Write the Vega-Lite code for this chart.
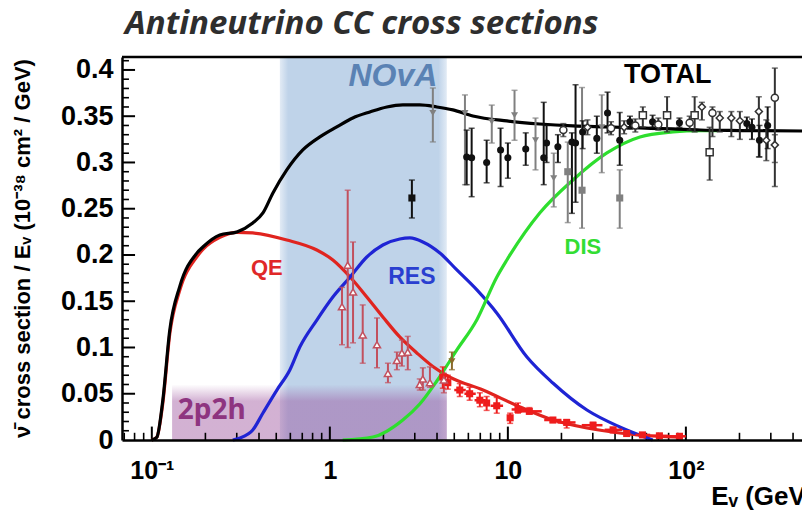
{
  "$schema": "https://vega.github.io/schema/vega-lite/v6.json",
  "width": 680,
  "height": 383,
  "autosize": {"type": "none"},
  "padding": {"left": 122, "top": 57, "right": 0, "bottom": 72},
  "background": "white",
  "title": {"text": "Antineutrino CC cross sections", "anchor": "start", "frame": "group", "font": "Open Sans", "fontSize": 33, "fontStyle": "italic", "fontWeight": "bold", "color": "#2e2e2e", "offset": 15, "dx": 3},
  "config": {"view": {"stroke": null}, "font": "Liberation Sans"},
  "datasets": {
    "bands": [
      {"band": "NOvA", "lo": 0.524, "hi": 4.54, "bottom": 0, "top": 0.414},
      {"band": "2p2h", "lo": 0.13, "hi": 4.54, "bottom": 0, "top": 0.06}
    ],
    "xt": [
      {"t": 0.1, "k": "major"}, {"t": 1, "k": "major"}, {"t": 10, "k": "major"}, {"t": 100, "k": "major"},
      {"t": 0.07, "k": "minor"}, {"t": 0.08, "k": "minor"}, {"t": 0.09, "k": "minor"},
      {"t": 0.2, "k": "minor"}, {"t": 0.3, "k": "minor"}, {"t": 0.4, "k": "minor"}, {"t": 0.5, "k": "minor"}, {"t": 0.6, "k": "minor"}, {"t": 0.7, "k": "minor"}, {"t": 0.8, "k": "minor"}, {"t": 0.9, "k": "minor"},
      {"t": 2, "k": "minor"}, {"t": 3, "k": "minor"}, {"t": 4, "k": "minor"}, {"t": 5, "k": "minor"}, {"t": 6, "k": "minor"}, {"t": 7, "k": "minor"}, {"t": 8, "k": "minor"}, {"t": 9, "k": "minor"},
      {"t": 20, "k": "minor"}, {"t": 30, "k": "minor"}, {"t": 40, "k": "minor"}, {"t": 50, "k": "minor"}, {"t": 60, "k": "minor"}, {"t": 70, "k": "minor"}, {"t": 80, "k": "minor"}, {"t": 90, "k": "minor"},
      {"t": 200, "k": "minor"}, {"t": 300, "k": "minor"}, {"t": 400, "k": "minor"}
    ],
    "yt": [
      {"t": 0.05, "k": "major"}, {"t": 0.1, "k": "major"}, {"t": 0.15, "k": "major"}, {"t": 0.2, "k": "major"}, {"t": 0.25, "k": "major"}, {"t": 0.3, "k": "major"}, {"t": 0.35, "k": "major"}, {"t": 0.4, "k": "major"},
      {"t": 0.01, "k": "minor"}, {"t": 0.02, "k": "minor"}, {"t": 0.03, "k": "minor"}, {"t": 0.04, "k": "minor"},
      {"t": 0.06, "k": "minor"}, {"t": 0.07, "k": "minor"}, {"t": 0.08, "k": "minor"}, {"t": 0.09, "k": "minor"},
      {"t": 0.11, "k": "minor"}, {"t": 0.12, "k": "minor"}, {"t": 0.13, "k": "minor"}, {"t": 0.14, "k": "minor"},
      {"t": 0.16, "k": "minor"}, {"t": 0.17, "k": "minor"}, {"t": 0.18, "k": "minor"}, {"t": 0.19, "k": "minor"},
      {"t": 0.21, "k": "minor"}, {"t": 0.22, "k": "minor"}, {"t": 0.23, "k": "minor"}, {"t": 0.24, "k": "minor"},
      {"t": 0.26, "k": "minor"}, {"t": 0.27, "k": "minor"}, {"t": 0.28, "k": "minor"}, {"t": 0.29, "k": "minor"},
      {"t": 0.31, "k": "minor"}, {"t": 0.32, "k": "minor"}, {"t": 0.33, "k": "minor"}, {"t": 0.34, "k": "minor"},
      {"t": 0.36, "k": "minor"}, {"t": 0.37, "k": "minor"}, {"t": 0.38, "k": "minor"}, {"t": 0.39, "k": "minor"},
      {"t": 0.41, "k": "minor"}
    ],
    "total": [
      {"E": 0.1, "v": 0}, {"E": 0.1067, "v": 0.003}, {"E": 0.1153, "v": 0.043}, {"E": 0.1262, "v": 0.119},
      {"E": 0.1436, "v": 0.166}, {"E": 0.179, "v": 0.202}, {"E": 0.1935, "v": 0.2086}, {"E": 0.241, "v": 0.2216},
      {"E": 0.3005, "v": 0.2249}, {"E": 0.369, "v": 0.2346}, {"E": 0.421, "v": 0.2454}, {"E": 0.479, "v": 0.267},
      {"E": 0.573, "v": 0.2919}, {"E": 0.705, "v": 0.3135}, {"E": 0.879, "v": 0.3276}, {"E": 1.094, "v": 0.3384},
      {"E": 1.346, "v": 0.3481}, {"E": 1.678, "v": 0.3546}, {"E": 2.09, "v": 0.36}, {"E": 2.57, "v": 0.3622},
      {"E": 3.2, "v": 0.3622}, {"E": 3.99, "v": 0.36}, {"E": 4.91, "v": 0.3568}, {"E": 6.36, "v": 0.3503},
      {"E": 9.87, "v": 0.3449}, {"E": 15.1, "v": 0.3416}, {"E": 23.2, "v": 0.3395}, {"E": 36, "v": 0.3384},
      {"E": 55.2, "v": 0.3373}, {"E": 84.5, "v": 0.3362}, {"E": 120, "v": 0.3351}, {"E": 200, "v": 0.3345},
      {"E": 449, "v": 0.334}
    ],
    "qe": [
      {"E": 0.1, "v": 0}, {"E": 0.1067, "v": 0.003}, {"E": 0.1153, "v": 0.04}, {"E": 0.1262, "v": 0.115},
      {"E": 0.1436, "v": 0.162}, {"E": 0.179, "v": 0.198}, {"E": 0.1935, "v": 0.206}, {"E": 0.241, "v": 0.219},
      {"E": 0.3005, "v": 0.2245}, {"E": 0.369, "v": 0.2238}, {"E": 0.573, "v": 0.2162}, {"E": 0.845, "v": 0.2054},
      {"E": 1.04, "v": 0.1946}, {"E": 1.3, "v": 0.1762}, {"E": 1.613, "v": 0.1546}, {"E": 1.985, "v": 0.133},
      {"E": 2.47, "v": 0.1114}, {"E": 3.08, "v": 0.0941}, {"E": 3.79, "v": 0.0795}, {"E": 4.72, "v": 0.068},
      {"E": 7.25, "v": 0.054}, {"E": 11.7, "v": 0.0357}, {"E": 17.9, "v": 0.0216}, {"E": 27.8, "v": 0.013},
      {"E": 42.5, "v": 0.0076}, {"E": 65.1, "v": 0.0043}, {"E": 96, "v": 0.003}
    ],
    "res": [
      {"E": 0.285, "v": 0}, {"E": 0.31, "v": 0.002}, {"E": 0.369, "v": 0.0108}, {"E": 0.421, "v": 0.0292},
      {"E": 0.504, "v": 0.054}, {"E": 0.596, "v": 0.0757}, {"E": 0.678, "v": 0.1005}, {"E": 0.845, "v": 0.1297},
      {"E": 1.04, "v": 0.1546}, {"E": 1.3, "v": 0.1762}, {"E": 1.613, "v": 0.1978}, {"E": 1.985, "v": 0.2108},
      {"E": 2.47, "v": 0.2173}, {"E": 2.82, "v": 0.2184}, {"E": 3.33, "v": 0.2141}, {"E": 4.15, "v": 0.2022},
      {"E": 5.17, "v": 0.1838}, {"E": 6.7, "v": 0.1622}, {"E": 8.66, "v": 0.1373}, {"E": 12.8, "v": 0.0897},
      {"E": 17.9, "v": 0.0616}, {"E": 27.8, "v": 0.0324}, {"E": 42.5, "v": 0.0141}, {"E": 65.1, "v": 0}
    ],
    "dis": [
      {"E": 1.18, "v": 0}, {"E": 1.745, "v": 0.0032}, {"E": 2.57, "v": 0.0216}, {"E": 3.2, "v": 0.0389},
      {"E": 3.99, "v": 0.0638}, {"E": 5.17, "v": 0.0973}, {"E": 6.7, "v": 0.13}, {"E": 8.66, "v": 0.176},
      {"E": 9.87, "v": 0.1946}, {"E": 15.1, "v": 0.2454}, {"E": 23.2, "v": 0.2811}, {"E": 36, "v": 0.3103},
      {"E": 55.2, "v": 0.3276}, {"E": 84.5, "v": 0.333}, {"E": 120, "v": 0.3345}, {"E": 150, "v": 0.3345}
    ],
    "pts": [
      {"E": 1.17, "v": 0.144, "lo": 0.103, "hi": 0.165, "g": "pk", "m": "tu", "f": 0},
      {"E": 1.26, "v": 0.189, "lo": 0.1, "hi": 0.27, "g": "pk", "m": "tu", "f": 0},
      {"E": 1.35, "v": 0.16, "lo": 0.105, "hi": 0.214, "g": "pk", "m": "tu", "f": 0},
      {"E": 1.53, "v": 0.1135, "lo": 0.083, "hi": 0.146, "g": "pk", "m": "tu", "f": 0},
      {"E": 1.84, "v": 0.103, "lo": 0.078, "hi": 0.132, "g": "pk", "m": "tu", "f": 0},
      {"E": 2.12, "v": 0.072, "lo": 0.062, "hi": 0.083, "g": "pk", "m": "tu", "f": 0},
      {"E": 2.38, "v": 0.086, "lo": 0.076, "hi": 0.095, "g": "pk", "m": "tu", "f": 0},
      {"E": 2.54, "v": 0.094, "lo": 0.08, "hi": 0.108, "g": "pk", "m": "tu", "f": 0},
      {"E": 2.74, "v": 0.095, "lo": 0.076, "hi": 0.112, "g": "pk", "m": "tu", "f": 0},
      {"E": 3.2, "v": 0.06, "lo": 0.054, "hi": 0.066, "g": "pk", "m": "tu", "f": 0},
      {"E": 3.33, "v": 0.066, "lo": 0.054, "hi": 0.078, "g": "pk", "m": "tu", "f": 0},
      {"E": 3.65, "v": 0.062, "lo": 0.057, "hi": 0.079, "g": "pk", "m": "tu", "f": 0},
      {"E": 4.37, "v": 0.065, "lo": 0.051, "hi": 0.072, "g": "pk", "m": "tu", "f": 0},
      {"E": 4.85, "v": 0.085, "lo": 0.076, "hi": 0.095, "g": "br", "m": "td", "f": 1},
      {"E": 4.31, "v": 0.068, "lo": 0.056, "hi": 0.079, "g": "rd", "m": "sq", "f": 1},
      {"E": 4.6, "v": 0.062, "lo": 0.055, "hi": 0.07, "g": "rd", "m": "sq", "f": 1},
      {"E": 5.37, "v": 0.054, "lo": 0.047, "hi": 0.061, "xlo": 5.0, "xhi": 5.8, "g": "rd", "m": "sq", "f": 1},
      {"E": 6.1, "v": 0.05, "lo": 0.043, "hi": 0.057, "xlo": 5.7, "xhi": 6.6, "g": "rd", "m": "sq", "f": 1},
      {"E": 6.96, "v": 0.043, "lo": 0.036, "hi": 0.051, "xlo": 6.5, "xhi": 7.5, "g": "rd", "m": "sq", "f": 1},
      {"E": 7.6, "v": 0.04, "lo": 0.032, "hi": 0.047, "g": "rd", "m": "sq", "f": 1},
      {"E": 8.66, "v": 0.037, "lo": 0.029, "hi": 0.046, "xlo": 8.0, "xhi": 9.4, "g": "rd", "m": "sq", "f": 1},
      {"E": 10.3, "v": 0.024, "lo": 0.018, "hi": 0.029, "g": "rd", "m": "sq", "f": 1},
      {"E": 11.4, "v": 0.033, "lo": 0.029, "hi": 0.04, "xlo": 10.5, "xhi": 12.5, "g": "rd", "m": "sq", "f": 1},
      {"E": 13.2, "v": 0.031, "lo": 0.028, "hi": 0.035, "xlo": 11.5, "xhi": 15.5, "g": "rd", "m": "sq", "f": 1},
      {"E": 17.9, "v": 0.0216, "lo": 0.019, "hi": 0.024, "xlo": 16, "xhi": 20, "g": "rd", "m": "sq", "f": 1},
      {"E": 21.4, "v": 0.019, "lo": 0.013, "hi": 0.022, "xlo": 19, "xhi": 24, "g": "rd", "m": "sq", "f": 1},
      {"E": 30.1, "v": 0.016, "lo": 0.013, "hi": 0.019, "xlo": 26, "xhi": 34, "g": "rd", "m": "sq", "f": 1},
      {"E": 39, "v": 0.011, "lo": 0.008, "hi": 0.013, "xlo": 35, "xhi": 44, "g": "rd", "m": "sq", "f": 1},
      {"E": 46.5, "v": 0.007, "lo": 0.005, "hi": 0.009, "g": "rd", "m": "sq", "f": 1},
      {"E": 57, "v": 0.0055, "lo": 0.003, "hi": 0.007, "xlo": 52, "xhi": 63, "g": "rd", "m": "sq", "f": 1},
      {"E": 71, "v": 0.0045, "lo": 0.0025, "hi": 0.006, "xlo": 63, "xhi": 80, "g": "rd", "m": "sq", "f": 1},
      {"E": 92, "v": 0.004, "lo": 0.002, "hi": 0.006, "xlo": 80, "xhi": 100, "g": "rd", "m": "sq", "f": 1},
      {"E": 3.79, "v": 0.3535, "lo": 0.3222, "hi": 0.3805, "g": "gy", "m": "td", "f": 1},
      {"E": 2.89, "v": 0.2616, "lo": 0.24, "hi": 0.281, "g": "bk", "m": "sq", "f": 1},
      {"E": 5.74, "v": 0.3535, "lo": 0.276, "hi": 0.373, "g": "gy", "m": "td", "f": 1},
      {"E": 5.87, "v": 0.306, "lo": 0.276, "hi": 0.335, "g": "bk", "m": "ci", "f": 1},
      {"E": 6.26, "v": 0.305, "lo": 0.263, "hi": 0.337, "g": "bk", "m": "ci", "f": 1},
      {"E": 7.6, "v": 0.3, "lo": 0.278, "hi": 0.324, "g": "bk", "m": "ci", "f": 1},
      {"E": 8.12, "v": 0.344, "lo": 0.321, "hi": 0.362, "g": "gy", "m": "td", "f": 1},
      {"E": 9.1, "v": 0.3135, "lo": 0.274, "hi": 0.337, "g": "bk", "m": "ci", "f": 1},
      {"E": 10.0, "v": 0.305, "lo": 0.283, "hi": 0.321, "g": "bk", "m": "ci", "f": 1},
      {"E": 10.9, "v": 0.351, "lo": 0.324, "hi": 0.378, "g": "gy", "m": "td", "f": 1},
      {"E": 12.6, "v": 0.3146, "lo": 0.297, "hi": 0.332, "g": "bk", "m": "ci", "f": 1},
      {"E": 14.3, "v": 0.324, "lo": 0.292, "hi": 0.348, "g": "gy", "m": "td", "f": 1},
      {"E": 15.9, "v": 0.305, "lo": 0.276, "hi": 0.365, "g": "bk", "m": "ci", "f": 1},
      {"E": 16.5, "v": 0.321, "lo": 0.3, "hi": 0.34, "g": "bk", "m": "ci", "f": 1},
      {"E": 18.1, "v": 0.283, "lo": 0.252, "hi": 0.31, "g": "gy", "m": "td", "f": 1},
      {"E": 19.1, "v": 0.317, "lo": 0.3, "hi": 0.33, "g": "bk", "m": "ci", "f": 1},
      {"E": 21.7, "v": 0.29, "lo": 0.235, "hi": 0.322, "g": "gy", "m": "sq", "f": 1},
      {"E": 22.9, "v": 0.322, "lo": 0.245, "hi": 0.332, "g": "bk", "m": "ci", "f": 1},
      {"E": 24.0, "v": 0.321, "lo": 0.257, "hi": 0.384, "g": "bk", "m": "ci", "f": 1},
      {"E": 26.1, "v": 0.27, "lo": 0.229, "hi": 0.381, "g": "gy", "m": "sq", "f": 1},
      {"E": 26.3, "v": 0.333, "lo": 0.315, "hi": 0.345, "g": "bk", "m": "ci", "f": 1},
      {"E": 31.6, "v": 0.326, "lo": 0.31, "hi": 0.35, "g": "bk", "m": "ci", "f": 1},
      {"E": 33.7, "v": 0.338, "lo": 0.289, "hi": 0.373, "g": "gy", "m": "td", "f": 1},
      {"E": 36.3, "v": 0.3535, "lo": 0.332, "hi": 0.376, "g": "bk", "m": "ci", "f": 1},
      {"E": 42.5, "v": 0.324, "lo": 0.297, "hi": 0.354, "g": "bk", "m": "ci", "f": 1},
      {"E": 42.5, "v": 0.2616, "lo": 0.229, "hi": 0.292, "g": "gy", "m": "sq", "f": 1},
      {"E": 48.5, "v": 0.344, "lo": 0.336, "hi": 0.35, "g": "bk", "m": "ci", "f": 1},
      {"E": 20.5, "v": 0.335, "lo": 0.328, "hi": 0.342, "g": "ok", "m": "ci", "f": 0},
      {"E": 28, "v": 0.338, "lo": 0.33, "hi": 0.346, "g": "ok", "m": "di", "f": 0},
      {"E": 38, "v": 0.337, "lo": 0.33, "hi": 0.344, "g": "ok", "m": "ci", "f": 0},
      {"E": 45, "v": 0.338, "lo": 0.331, "hi": 0.345, "g": "ok", "m": "di", "f": 0},
      {"E": 52, "v": 0.34, "lo": 0.333, "hi": 0.347, "g": "ok", "m": "ci", "f": 0},
      {"E": 57.3, "v": 0.351, "lo": 0.338, "hi": 0.36, "g": "ok", "m": "sq", "f": 0},
      {"E": 65, "v": 0.344, "lo": 0.338, "hi": 0.351, "g": "bk", "m": "ci", "f": 1},
      {"E": 70, "v": 0.341, "lo": 0.335, "hi": 0.348, "g": "ok", "m": "ci", "f": 0},
      {"E": 78.4, "v": 0.351, "lo": 0.333, "hi": 0.371, "g": "ok", "m": "sq", "f": 0},
      {"E": 92, "v": 0.343, "lo": 0.338, "hi": 0.348, "g": "bk", "m": "ci", "f": 1},
      {"E": 105, "v": 0.343, "lo": 0.335, "hi": 0.35, "g": "ok", "m": "ci", "f": 0},
      {"E": 112, "v": 0.351, "lo": 0.333, "hi": 0.371, "g": "ok", "m": "sq", "f": 0},
      {"E": 123, "v": 0.36, "lo": 0.346, "hi": 0.365, "g": "ok", "m": "di", "f": 0},
      {"E": 136, "v": 0.311, "lo": 0.281, "hi": 0.338, "g": "ok", "m": "sq", "f": 0},
      {"E": 141, "v": 0.3535, "lo": 0.328, "hi": 0.36, "g": "ok", "m": "ci", "f": 0},
      {"E": 155, "v": 0.348, "lo": 0.333, "hi": 0.355, "g": "ok", "m": "di", "f": 0},
      {"E": 180, "v": 0.348, "lo": 0.328, "hi": 0.355, "g": "ok", "m": "di", "f": 0},
      {"E": 201, "v": 0.345, "lo": 0.325, "hi": 0.355, "g": "ok", "m": "di", "f": 0},
      {"E": 220, "v": 0.342, "lo": 0.335, "hi": 0.349, "g": "bk", "m": "ci", "f": 1},
      {"E": 235, "v": 0.338, "lo": 0.325, "hi": 0.347, "g": "bk", "m": "ci", "f": 1},
      {"E": 257, "v": 0.355, "lo": 0.306, "hi": 0.371, "g": "ok", "m": "di", "f": 0},
      {"E": 259, "v": 0.324, "lo": 0.306, "hi": 0.34, "g": "bk", "m": "ci", "f": 1},
      {"E": 283, "v": 0.324, "lo": 0.302, "hi": 0.346, "g": "ok", "m": "di", "f": 0},
      {"E": 288, "v": 0.34, "lo": 0.315, "hi": 0.36, "g": "bk", "m": "ci", "f": 1},
      {"E": 316, "v": 0.37, "lo": 0.274, "hi": 0.402, "g": "ok", "m": "ci", "f": 0},
      {"E": 316, "v": 0.319, "lo": 0.3, "hi": 0.33, "g": "ok", "m": "di", "f": 0}
    ]
  },
  "layer": [
    {
      "data": {"name": "bands"},
      "transform": [{"filter": "datum.band == 'NOvA'"}],
      "mark": {"type": "rect", "fill": {"gradient": "linear", "x1": 0, "y1": 0, "x2": 1, "y2": 0, "stops": [{"offset": 0, "color": "#e2ebf5"}, {"offset": 0.05, "color": "#bfd3e9"}, {"offset": 0.95, "color": "#bfd3e9"}, {"offset": 1, "color": "#e2ebf5"}]}},
      "encoding": {
        "x": {"field": "lo", "type": "quantitative", "scale": {"type": "log", "domain": [0.068, 449], "nice": false},
          "axis": {"orient": "bottom", "zindex": 2, "ticks": false, "values": [0.1, 1, 10, 100], "labelExpr": "datum.value < 0.5 ? '10⁻¹' : datum.value > 50 ? '10²' : datum.value >= 5 ? '10' : '1'", "labelFont": "Liberation Sans", "labelFontSize": 25, "labelFontWeight": "bold", "labelColor": "black", "labelPadding": 18, "labelBaseline": "top", "labelFlush": false, "labelOverlap": false, "domain": true, "domainColor": "black", "domainWidth": 2.5, "grid": false, "title": "Eᵥ (GeV)", "titleFont": "Liberation Sans", "titleFontSize": 26, "titleFontWeight": "bold", "titleColor": "black", "titleAlign": "right", "titleX": 692, "titleY": 64, "titleBaseline": "alphabetic"}},
        "x2": {"field": "hi"},
        "y": {"field": "bottom", "type": "quantitative", "scale": {"domain": [0, 0.414], "nice": false, "zero": false},
          "axis": {"orient": "left", "zindex": 2, "ticks": false, "values": [0, 0.05, 0.1, 0.15, 0.2, 0.25, 0.3, 0.35, 0.4], "format": "~g", "labelFont": "Liberation Sans", "labelFontSize": 27, "labelFontWeight": "bold", "labelColor": "black", "labelPadding": 9, "labelOverlap": false, "labelFlush": false, "domain": true, "domainColor": "black", "domainWidth": 2.5, "grid": false, "title": "ν̄ cross section / Eᵥ (10⁻³⁸ cm² / GeV)", "titleFont": "Liberation Sans", "titleFontSize": 22, "titleFontWeight": "bold", "titleColor": "black", "titleX": -100, "titleY": 191, "titleAngle": 270, "titleAlign": "center", "titleBaseline": "middle"}},
        "y2": {"field": "top"}
      }
    },
    {
      "data": {"name": "bands"},
      "transform": [{"filter": "datum.band == '2p2h'"}],
      "mark": {"type": "rect", "fill": {"gradient": "linear", "x1": 0, "y1": 0, "x2": 0, "y2": 1, "stops": [{"offset": 0, "color": "rgba(150,70,150,0)"}, {"offset": 0.3, "color": "rgba(150,70,150,0.42)"}, {"offset": 1, "color": "rgba(150,70,150,0.42)"}]}},
      "encoding": {"x": {"field": "lo", "type": "quantitative"}, "x2": {"field": "hi"}, "y": {"field": "bottom", "type": "quantitative"}, "y2": {"field": "top"}}
    },
    {
      "data": {"name": "xt"},
      "transform": [{"filter": "datum.k == 'major'"}],
      "mark": {"type": "rule", "color": "black", "strokeWidth": 2},
      "encoding": {"x": {"field": "t", "type": "quantitative"}, "y": {"datum": 0, "type": "quantitative"}, "y2": {"datum": 0.0145}}
    },
    {
      "data": {"name": "xt"},
      "transform": [{"filter": "datum.k == 'minor'"}],
      "mark": {"type": "rule", "color": "black", "strokeWidth": 1.6},
      "encoding": {"x": {"field": "t", "type": "quantitative"}, "y": {"datum": 0, "type": "quantitative"}, "y2": {"datum": 0.0078}}
    },
    {
      "data": {"name": "yt"},
      "transform": [{"filter": "datum.k == 'major'"}],
      "mark": {"type": "rule", "color": "black", "strokeWidth": 2},
      "encoding": {"y": {"field": "t", "type": "quantitative"}, "x": {"datum": 0.068, "type": "quantitative"}, "x2": {"datum": 0.0805}}
    },
    {
      "data": {"name": "yt"},
      "transform": [{"filter": "datum.k == 'minor'"}],
      "mark": {"type": "rule", "color": "black", "strokeWidth": 1.6},
      "encoding": {"y": {"field": "t", "type": "quantitative"}, "x": {"datum": 0.068, "type": "quantitative"}, "x2": {"datum": 0.0744}}
    },
    {
      "data": {"name": "qe"},
      "mark": {"type": "line", "color": "#e0241f", "strokeWidth": 3.2, "interpolate": "monotone"},
      "encoding": {"x": {"field": "E", "type": "quantitative"}, "y": {"field": "v", "type": "quantitative"}}
    },
    {
      "data": {"name": "res"},
      "mark": {"type": "line", "color": "#1f24d4", "strokeWidth": 3.2, "interpolate": "monotone"},
      "encoding": {"x": {"field": "E", "type": "quantitative"}, "y": {"field": "v", "type": "quantitative"}}
    },
    {
      "data": {"name": "dis"},
      "mark": {"type": "line", "color": "#2ede2e", "strokeWidth": 3.2, "interpolate": "monotone"},
      "encoding": {"x": {"field": "E", "type": "quantitative"}, "y": {"field": "v", "type": "quantitative"}}
    },
    {
      "data": {"name": "total"},
      "mark": {"type": "line", "color": "#000000", "strokeWidth": 3.2, "interpolate": "monotone"},
      "encoding": {"x": {"field": "E", "type": "quantitative"}, "y": {"field": "v", "type": "quantitative"}}
    },
    {
      "data": {"name": "pts"},
      "mark": {"type": "rule", "strokeWidth": 2},
      "encoding": {
        "x": {"field": "E", "type": "quantitative"},
        "y": {"field": "lo", "type": "quantitative"},
        "y2": {"field": "hi"},
        "color": {"field": "g", "type": "nominal", "scale": {"domain": ["bk", "gy", "pk", "rd", "br", "ok"], "range": ["#111111", "#808080", "#c2505e", "#ee1c1c", "#8a6a2a", "#333333"]}, "legend": null}
      }
    },
    {
      "data": {"name": "pts"},
      "transform": [{"filter": "isValid(datum.xlo)"}],
      "mark": {"type": "rule", "strokeWidth": 2.5},
      "encoding": {
        "x": {"field": "xlo", "type": "quantitative"},
        "x2": {"field": "xhi"},
        "y": {"field": "v", "type": "quantitative"},
        "color": {"field": "g", "type": "nominal", "scale": {"domain": ["bk", "gy", "pk", "rd", "br", "ok"], "range": ["#111111", "#808080", "#c2505e", "#ee1c1c", "#8a6a2a", "#333333"]}, "legend": null}
      }
    },
    {
      "data": {"name": "pts"},
      "mark": {"type": "tick", "orient": "horizontal", "size": 6, "thickness": 1.5},
      "encoding": {
        "x": {"field": "E", "type": "quantitative"},
        "y": {"field": "hi", "type": "quantitative"},
        "color": {"field": "g", "type": "nominal", "scale": {"domain": ["bk", "gy", "pk", "rd", "br", "ok"], "range": ["#111111", "#808080", "#c2505e", "#ee1c1c", "#8a6a2a", "#333333"]}, "legend": null}
      }
    },
    {
      "data": {"name": "pts"},
      "mark": {"type": "tick", "orient": "horizontal", "size": 6, "thickness": 1.5},
      "encoding": {
        "x": {"field": "E", "type": "quantitative"},
        "y": {"field": "lo", "type": "quantitative"},
        "color": {"field": "g", "type": "nominal", "scale": {"domain": ["bk", "gy", "pk", "rd", "br", "ok"], "range": ["#111111", "#808080", "#c2505e", "#ee1c1c", "#8a6a2a", "#333333"]}, "legend": null}
      }
    },
    {
      "data": {"name": "pts"},
      "transform": [{"filter": "datum.f == 1"}],
      "mark": {"type": "point", "filled": true, "size": 50, "opacity": 1},
      "encoding": {
        "x": {"field": "E", "type": "quantitative"},
        "y": {"field": "v", "type": "quantitative"},
        "shape": {"field": "m", "type": "nominal", "scale": {"domain": ["ci", "sq", "td", "tu", "di"], "range": ["circle", "square", "triangle-down", "triangle-up", "diamond"]}, "legend": null},
        "color": {"field": "g", "type": "nominal", "scale": {"domain": ["bk", "gy", "pk", "rd", "br", "ok"], "range": ["#111111", "#808080", "#c2505e", "#ee1c1c", "#8a6a2a", "#333333"]}, "legend": null}
      }
    },
    {
      "data": {"name": "pts"},
      "transform": [{"filter": "datum.f == 0"}],
      "mark": {"type": "point", "filled": false, "fill": "white", "fillOpacity": 1, "strokeWidth": 1.5, "size": 50, "opacity": 1},
      "encoding": {
        "x": {"field": "E", "type": "quantitative"},
        "y": {"field": "v", "type": "quantitative"},
        "shape": {"field": "m", "type": "nominal", "scale": {"domain": ["ci", "sq", "td", "tu", "di"], "range": ["circle", "square", "triangle-down", "triangle-up", "diamond"]}, "legend": null},
        "color": {"field": "g", "type": "nominal", "scale": {"domain": ["bk", "gy", "pk", "rd", "br", "ok"], "range": ["#111111", "#808080", "#c2505e", "#ee1c1c", "#8a6a2a", "#333333"]}, "legend": null}
      }
    },
    {
      "data": {"values": [{"label": "NOvA"}]},
      "mark": {"type": "text", "font": "Liberation Sans", "fontSize": 32, "fontWeight": "bold", "fontStyle": "italic", "color": "#5a82b4", "align": "center", "baseline": "middle"},
      "encoding": {"x": {"datum": 2.26, "type": "quantitative"}, "y": {"datum": 0.394, "type": "quantitative"}, "text": {"field": "label"}}
    },
    {
      "data": {"values": [{"label": "TOTAL"}]},
      "mark": {"type": "text", "font": "Liberation Sans", "fontSize": 27, "fontWeight": "bold", "color": "#000000", "align": "center", "baseline": "middle"},
      "encoding": {"x": {"datum": 79.2, "type": "quantitative"}, "y": {"datum": 0.395, "type": "quantitative"}, "text": {"field": "label"}}
    },
    {
      "data": {"values": [{"label": "QE"}]},
      "mark": {"type": "text", "font": "Liberation Sans", "fontSize": 22, "fontWeight": "bold", "color": "#e02828", "align": "center", "baseline": "middle"},
      "encoding": {"x": {"datum": 0.443, "type": "quantitative"}, "y": {"datum": 0.186, "type": "quantitative"}, "text": {"field": "label"}}
    },
    {
      "data": {"values": [{"label": "RES"}]},
      "mark": {"type": "text", "font": "Liberation Sans", "fontSize": 23, "fontWeight": "bold", "color": "#2a3fd0", "align": "center", "baseline": "middle"},
      "encoding": {"x": {"datum": 2.89, "type": "quantitative"}, "y": {"datum": 0.176, "type": "quantitative"}, "text": {"field": "label"}}
    },
    {
      "data": {"values": [{"label": "DIS"}]},
      "mark": {"type": "text", "font": "Liberation Sans", "fontSize": 22, "fontWeight": "bold", "color": "#33dd33", "align": "center", "baseline": "middle"},
      "encoding": {"x": {"datum": 26.4, "type": "quantitative"}, "y": {"datum": 0.209, "type": "quantitative"}, "text": {"field": "label"}}
    },
    {
      "data": {"values": [{"label": "2p2h"}]},
      "mark": {"type": "text", "font": "Noto Sans", "fontSize": 28, "fontWeight": "bold", "color": "#8e3480", "align": "center", "baseline": "middle"},
      "encoding": {"x": {"datum": 0.217, "type": "quantitative"}, "y": {"datum": 0.031, "type": "quantitative"}, "text": {"field": "label"}}
    },
    {
      "data": {"values": [{"edge": "top"}]},
      "mark": {"type": "rule", "color": "black", "strokeWidth": 2.5},
      "encoding": {"y": {"datum": 0.414, "type": "quantitative"}}
    }
  ]
}
